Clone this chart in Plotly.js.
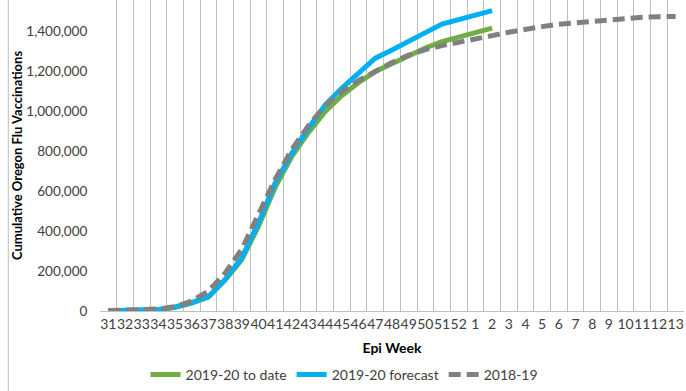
<!DOCTYPE html>
<html>
<head>
<meta charset="utf-8">
<script src="https://cdn.plot.ly/plotly-3.0.1.min.js"></script>
<style>html,body{margin:0;padding:0;background:#fff}#chart{width:686px;height:391px}</style>
</head>
<body>
<div id="chart"></div>
<script>
const weeks = ["31","32","33","34","35","36","37","38","39","40","41","42","43","44","45","46","47","48","49","50","51","52","1","2","3","4","5","6","7","8","9","10","11","12","13"];
const toDate = [1000,2000,3000,6000,18000,40000,70000,155000,258000,425000,620000,775000,895000,1000000,1080000,1145000,1200000,1240000,1280000,1318000,1350000,1372000,1390000,1418000];
const forecast = [1000,2000,3000,8000,20000,42000,72000,158000,267000,442000,642000,792000,917000,1033000,1117000,1192000,1267000,1308000,1355000,1395000,1438000,1462000,1483000,1505000];
const prior = [2000,3000,5000,10000,22000,50000,100000,190000,310000,480000,660000,810000,930000,1030000,1100000,1155000,1200000,1245000,1282000,1310000,1330000,1345000,1365000,1380000,1397000,1408000,1425000,1437000,1445000,1453000,1458000,1465000,1472000,1475000,1476000];
const yTicks = [0,200000,400000,600000,800000,1000000,1200000,1400000];
const yTickText = ["0","200,000","400,000","600,000","800,000","1,000,000","1,200,000","1,400,000"];

const font = "Lato, 'Noto Sans', sans-serif";
const traces = [
  {x: weeks.slice(0, toDate.length), y: toDate, name: "2019-20 to date", mode: "lines",
   line: {color: "#70ad47", width: 5}},
  {x: weeks.slice(0, forecast.length), y: forecast, name: "2019-20 forecast", mode: "lines",
   line: {color: "#00b0f0", width: 5}},
  {x: weeks.slice(0, prior.length), y: prior, name: "2018-19", mode: "lines",
   line: {color: "#808080", width: 5, dash: "12px,6px"}}
];
const layout = {
  width: 686, height: 391,
  margin: {l: 100, r: 2, t: 0, b: 79},
  paper_bgcolor: "#ffffff", plot_bgcolor: "#ffffff",
  font: {family: font, size: 14, color: "#595959"},
  showlegend: true,
  legend: {orientation: "h", x: 0.078, xanchor: "left", y: -0.205, yanchor: "middle",
           font: {family: font, size: 14, color: "#404040"}, bgcolor: "rgba(0,0,0,0)"},
  xaxis: {type: "category", categoryorder: "array", categoryarray: weeks,
          range: [-0.5, weeks.length - 0.5], tickson: "boundaries",
          tickmode: "linear", tick0: 0, dtick: 1,
          ticks: "outside", ticklen: 11, tickcolor: "rgba(0,0,0,0)",
          showgrid: true, gridcolor: "#bfbfbf", gridwidth: 1,
          showline: true, linecolor: "#bfbfbf", linewidth: 1,
          tickangle: 0, tickfont: {family: font, size: 14, color: "#404040"},
          title: {text: "<b>Epi Week</b>", font: {family: font, size: 14, color: "#000000"}, standoff: 12},
          zeroline: false, fixedrange: true},
  yaxis: {range: [0, 1558500], tickvals: yTicks, ticktext: yTickText, showgrid: false,
          showline: false, zeroline: false, ticks: "outside", ticklen: 9, tickcolor: "rgba(0,0,0,0)",
          tickfont: {family: font, size: 13.5, color: "#404040"},
          title: {text: "<b>Cumulative Oregon Flu Vaccinations</b>", font: {family: font, size: 13, color: "#000000"}, standoff: 0},
          fixedrange: true},
  shapes: [{type: "line", xref: "paper", yref: "paper", x0: -0.157, x1: -0.157, y0: -0.26, y1: 1.0,
            line: {color: "#bfbfbf", width: 1}}]
};
Plotly.newPlot("chart", traces, layout, {displayModeBar: false, staticPlot: true});
</script>
</body>
</html>
